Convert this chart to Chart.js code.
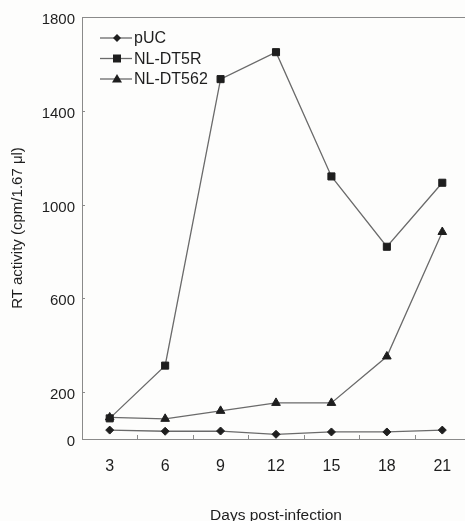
<!DOCTYPE html>
<html>
<head>
<meta charset="utf-8">
<script src="https://cdn.jsdelivr.net/npm/chart.js@4/dist/chart.umd.min.js"></script>
<style>
  html, body { margin: 0; padding: 0; background: #fdfdfc; overflow: hidden; }
  #wrap { width: 480px; height: 521px; }
</style>
</head>
<body>
<div id="wrap"><canvas id="rt"></canvas></div>
<script>
const days = ["3", "6", "9", "12", "15", "18", "21"];
const pUC = [38, 33, 34, 20, 30, 30, 38];
const nlDT5R = [88, 313, 1535, 1650, 1120, 820, 1093];
const nlDT562 = [92, 86, 120, 154, 154, 352, 883];
const yTicks = [0, 200, 600, 1000, 1400, 1800];

const ink = "#1e1e1e";
const lineGray = "#6a6a6a";
const font = "Liberation Sans, Arial, sans-serif";

function marker(ctx, style, x, y, r) {
  ctx.beginPath();
  if (style === "rectRot") {
    ctx.moveTo(x, y - r); ctx.lineTo(x + r, y); ctx.lineTo(x, y + r); ctx.lineTo(x - r, y);
  } else if (style === "rect") {
    ctx.rect(x - r * 0.8, y - r * 0.8, r * 1.6, r * 1.6);
  } else {
    ctx.moveTo(x, y - r); ctx.lineTo(x + r, y + r * 0.7); ctx.lineTo(x - r, y + r * 0.7);
  }
  ctx.closePath();
  ctx.fill();
}

// legend with line + marker, inside the plot, plus frame and inward ticks
const extras = {
  id: "extras",
  afterDraw(chart) {
    const ctx = chart.ctx;
    const area = chart.chartArea;
    const xs = chart.scales.x, ys = chart.scales.y;
    ctx.save();
    ctx.strokeStyle = "#8a8a8a";
    ctx.lineWidth = 1;
    ctx.beginPath();
    ctx.moveTo(area.left, area.top + 0.5);
    ctx.lineTo(area.right, area.top + 0.5);
    const step = (xs.right - xs.left) / days.length;
    for (let i = 1; i < days.length; i++) {
      const px = Math.round(xs.left + i * step) + 0.5;
      ctx.moveTo(px, area.bottom);
      ctx.lineTo(px, area.bottom - 4);
    }
    yTicks.forEach(v => {
      const py = Math.round(ys.getPixelForValue(v)) + 0.5;
      ctx.moveTo(area.left, py);
      ctx.lineTo(area.left + 3, py);
    });
    ctx.stroke();

    ctx.font = "16px " + font;
    ctx.textBaseline = "middle";
    chart.data.datasets.forEach((ds, i) => {
      const y = area.top + 21 + i * 20.5;
      const x0 = area.left + 18;
      ctx.strokeStyle = lineGray;
      ctx.lineWidth = 1.3;
      ctx.beginPath();
      ctx.moveTo(x0, y);
      ctx.lineTo(x0 + 32, y);
      ctx.stroke();
      ctx.fillStyle = ink;
      marker(ctx, ds.pointStyle, x0 + 17, y, ds.pointRadius);
      ctx.fillText(ds.label, x0 + 34, y + 1);
    });
    ctx.restore();
  }
};

function series(label, data, style, r) {
  return {
    label: label,
    data: data,
    borderColor: lineGray,
    borderWidth: 1.3,
    pointStyle: style,
    pointRadius: r,
    pointBackgroundColor: ink,
    pointBorderColor: ink,
    pointBorderWidth: 1,
    tension: 0,
    fill: false
  };
}

new Chart(document.getElementById("rt"), {
  type: "line",
  data: {
    labels: days,
    datasets: [
      series("pUC", pUC, "rectRot", 4),
      series("NL-DT5R", nlDT5R, "rect", 5),
      series("NL-DT562", nlDT562, "triangle", 5)
    ]
  },
  options: {
    responsive: true,
    maintainAspectRatio: false,
    animation: false,
    layout: { padding: { top: 17, right: 10, left: 0, bottom: 0 } },
    plugins: {
      legend: { display: false },
      tooltip: { enabled: false }
    },
    scales: {
      x: {
        offset: true,
        grid: { display: false, drawTicks: false },
        border: { color: "#8a8a8a", width: 1 },
        ticks: { color: ink, font: { family: font, size: 16 }, padding: 18 },
        title: {
          display: true,
          text: "Days post-infection",
          color: ink,
          font: { family: font, size: 15.5 },
          padding: { top: 0, bottom: -4 }
        },
        afterFit(scale) { scale.height = 82; }
      },
      y: {
        min: 0,
        max: 1800,
        afterBuildTicks(scale) { scale.ticks = yTicks.map(v => ({ value: v })); },
        grid: { display: false, drawTicks: false },
        border: { color: "#8a8a8a", width: 1 },
        ticks: {
          color: ink,
          font: { family: font, size: 15 },
          padding: 7,
          labelOffset: 3,
          callback: v => String(v)
        },
        title: {
          display: true,
          text: "RT activity (cpm/1.67 \u03bcl)",
          color: ink,
          font: { family: font, size: 15 },
          padding: { top: 9, bottom: 0 }
        },
        afterFit(scale) { scale.width = 82; }
      }
    }
  },
  plugins: [extras]
});
</script>
</body>
</html>
